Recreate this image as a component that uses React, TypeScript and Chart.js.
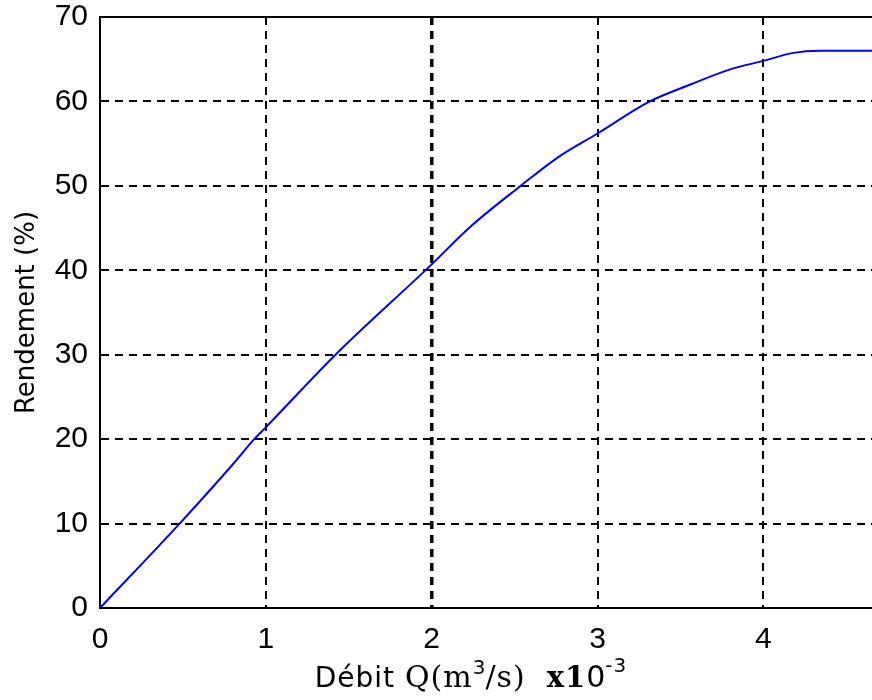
import React, { useEffect, useRef } from "react";
import { Chart, registerables } from "chart.js";

Chart.register(...registerables);

// Débit Q (x10^-3 m3/s) and Rendement (%)
const debitQ = [0, 0.48, 0.8, 0.93, 1.0, 1.42, 2.0, 2.23, 2.53, 2.77, 3.0, 3.315, 3.56, 3.8, 4.0, 4.18, 4.34, 4.66];
const rendement = [0, 10, 17.0, 20, 21.4, 30, 40.7, 45.1, 49.9, 53.5, 56.2, 60.0, 62.0, 63.8, 64.8, 65.75, 66.0, 66.0];

const xMin = 0;
const xMax = 4.655;
const yMin = 0;
const yMax = 70;
const xTitleParts = [
  { text: "Débit ", font: "28px 'DejaVu Sans'", raise: 0, spacing: 1 },
  { text: "Q(m", font: "30px 'DejaVu Serif'", raise: 0, spacing: 1 },
  { text: "3", font: "20px 'DejaVu Sans'", raise: 13, spacing: 0 },
  { text: "/s)  ", font: "30px 'DejaVu Serif'", raise: 0, spacing: 1 },
  { text: "x1", font: "bold 29px 'DejaVu Serif'", raise: 0, spacing: 1 },
  { text: "0", font: "30px 'DejaVu Sans'", raise: 0, spacing: 0 },
  { text: "-3", font: "20px 'DejaVu Sans'", raise: 15, spacing: 1 },
];
const yTitle = "Rendement (%)";

const framePlugin = {
  id: "frame",
  afterDraw(chart: any) {
    const { ctx, chartArea } = chart;
    ctx.save();
    ctx.strokeStyle = "#000";
    ctx.lineWidth = 2;
    ctx.beginPath();
    ctx.moveTo(chartArea.left, chartArea.top);
    ctx.lineTo(chartArea.right + 2, chartArea.top);
    ctx.stroke();
    // x axis title with superscripts
    ctx.fillStyle = "#000";
    ctx.textBaseline = "alphabetic";
    ctx.textAlign = "left";
    let total = 0;
    const widths = xTitleParts.map((p) => {
      ctx.font = p.font;
      (ctx as any).letterSpacing = p.spacing + "px";
      const w = ctx.measureText(p.text).width;
      total += w;
      return w;
    });
    let x = 471 - total / 2;
    const baseY = 687;
    xTitleParts.forEach((p, i) => {
      ctx.font = p.font;
      (ctx as any).letterSpacing = p.spacing + "px";
      ctx.fillText(p.text, x, baseY - p.raise);
      x += widths[i];
    });
    (ctx as any).letterSpacing = "0px";
    ctx.restore();
  },
};

export default function App() {
  const ref = useRef<HTMLCanvasElement | null>(null);
  useEffect(() => {
    if (!ref.current) return;
    const data = debitQ.map((x, i) => ({ x, y: rendement[i] }));
    const chart = new Chart(ref.current, {
      type: "line",
      data: {
        datasets: [
          {
            data,
            borderColor: "#0000ff",
            borderWidth: 2,
            pointRadius: 0,
            fill: false,
            cubicInterpolationMode: "monotone",
          },
        ],
      },
      options: {
        animation: false,
        responsive: false,
        layout: { padding: { top: 17, right: 0, left: 0, bottom: 0 } },
        plugins: { legend: { display: false }, tooltip: { enabled: false } },
        scales: {
          x: {
            type: "linear",
            min: xMin,
            max: xMax,
            afterFit: (s: any) => {
              s.height = 92;
              s.paddingLeft = 0;
              s.paddingRight = 0;
            },
            ticks: {
              stepSize: 1,
              includeBounds: false,
              padding: 14,
              color: "#000",
              font: { family: "Liberation Sans", size: 30 },
              maxRotation: 0,
            },
            grid: {
              color: (c: any) => (c.tick && c.tick.value === 0 ? "rgba(0,0,0,0)" : "#000"),
              lineWidth: (c: any) => (c.tick && c.tick.value === 2 ? 3.5 : 2),
              drawTicks: false,
            },
            border: { display: true, color: "#000", width: 2, dash: [8, 6] },
            title: { display: false },
          },
          y: {
            type: "linear",
            min: yMin,
            max: yMax,
            afterFit: (s: any) => {
              s.width = 100;
              s.paddingTop = 0;
              s.paddingBottom = 0;
            },
            ticks: {
              stepSize: 10,
              padding: 12,
              color: "#000",
              font: { family: "Liberation Sans", size: 30 },
            },
            grid: {
              color: (c: any) => (c.tick && (c.tick.value === 0 || c.tick.value === 70) ? "rgba(0,0,0,0)" : "#000"),
              lineWidth: 2,
              drawTicks: false,
            },
            border: { display: true, color: "#000", width: 2, dash: [8, 6] },
            title: {
              display: true,
              text: yTitle,
              color: "#000",
              font: { family: "DejaVu Sans", size: 26 },
              padding: { top: 12, bottom: 0 },
            },
          },
        },
      },
      plugins: [framePlugin],
    });
    return () => chart.destroy();
  }, []);
  return (
    <div style={{ position: "absolute", left: 0, top: 0, width: 872, height: 700, background: "#fff", overflow: "hidden" }}>
      <canvas ref={ref} width={872} height={700} />
    </div>
  );
}
